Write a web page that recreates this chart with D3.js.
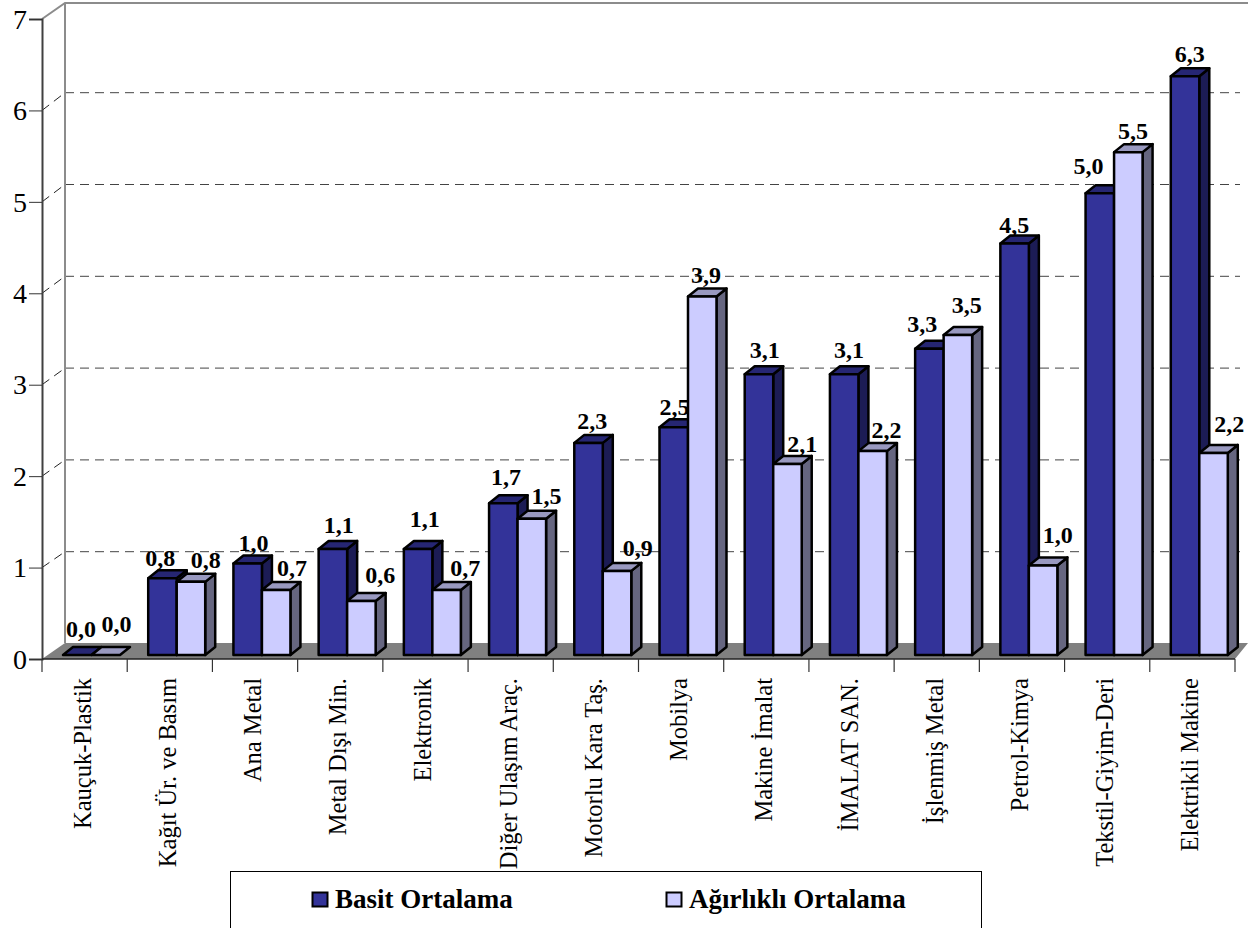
<!DOCTYPE html>
<html><head><meta charset="utf-8">
<script src="https://cdn.jsdelivr.net/npm/d3@7"></script>
<style>html,body{margin:0;padding:0;background:#fff}svg{display:block}text{font-family:"Liberation Serif",serif}</style>
</head><body><svg id="c" width="1248" height="928"></svg>
<script>
const categories=["Kauçuk-Plastik","Kağıt Ür. ve Basım","Ana Metal","Metal Dışı Min.","Elektronik","Diğer Ulaşım Araç.","Motorlu Kara Taş.","Mobilya","Makine İmalat","İMALAT SAN.","İşlenmiş Metal","Petrol-Kimya","Tekstil-Giyim-Deri","Elektrikli Makine"];
const basit=[0,0.84,1.0,1.16,1.16,1.66,2.32,2.49,3.07,3.07,3.35,4.5,5.05,6.33];
const agirlikli=[0,0.8,0.71,0.59,0.71,1.49,0.92,3.92,2.09,2.23,3.5,0.98,5.5,2.21];
const basitLabels=["0,0","0,8","1,0","1,1","1,1","1,7","2,3","2,5","3,1","3,1","3,3","4,5","5,0","6,3"];
const agirlikliLabels=["0,0","0,8","0,7","0,6","0,7","1,5","0,9","3,9","2,1","2,2","3,5","1,0","5,5","2,2"];
const yTicks=[0,1,2,3,4,5,6,7];
const seriesNames=["Basit Ortalama","Ağırlıklı Ortalama"];
// label placement nudges (px), separate from data
const nudgeBasit=[[3,-18],[-3,-12],[5,-13],[5,-16],[6,-22],[2,-18],[3,-14],[0,-12],[5,-16],[4,-16],[-8,-17],[-1,-11],[-12,-19],[4,-14]];
const nudgeAgir=[[10,-23],[14,-14],[15,-14],[18,-18],[18,-14],[14,-15],[20,-15],[3,-14],[14,-12],[13,-13],[8,-22],[14,-22],[4,-13],[15,-21]];

const svg=d3.select("#c");
const y=d3.scaleLinear().domain([0,7]).range([659,19]);
const yBack=d3.scaleLinear().domain([1,6]).range([551.7,92.7]);
const x=d3.scaleBand().domain(categories).range([42,1235]).paddingInner(0).paddingOuter(0);
const wallDx=23,wallDy=16,barW=28.5,dX=10,dY=8,barLift=4,groupOff=21;
const axisX=x.range()[0];
const pts=a=>a.map(p=>p.join(",")).join(" ");

// floor
svg.append("polygon").attr("points",pts([[axisX,y(0)],[axisX+wallDx,y(0)-wallDy],[1248,y(0)-wallDy],[1235,y(0)]])).attr("fill","#808080");
// gridlines
yTicks.slice(1,7).forEach(t=>{
  svg.append("line").attr("x1",axisX+wallDx).attr("x2",1240).attr("y1",yBack(t)).attr("y2",yBack(t))
    .attr("stroke","#444").attr("stroke-width",1).attr("stroke-dasharray","9,6");
  svg.append("line").attr("x1",axisX).attr("x2",axisX+wallDx).attr("y1",y(t)).attr("y2",yBack(t))
    .attr("stroke","#222").attr("stroke-width",1).attr("stroke-dasharray","9,6");
});
// walls
svg.append("path").attr("d",`M${axisX},${y(7)}L${axisX+wallDx},${y(7)-wallDy}L1248,${y(7)-wallDy}`).attr("fill","none").attr("stroke","#8c8c8c").attr("stroke-width",2);
svg.append("line").attr("x1",axisX+wallDx).attr("x2",axisX+wallDx).attr("y1",y(7)-wallDy).attr("y2",y(0)-wallDy).attr("stroke","#8c8c8c").attr("stroke-width",2);

// axes
const ya=d3.axisLeft(y).tickValues(yTicks).tickSize(13).tickPadding(2).tickFormat(d3.format("d"));
const yg=svg.append("g").attr("transform",`translate(${axisX},0)`).call(ya);
yg.select(".domain").attr("stroke","#404040").attr("stroke-width",2);
yg.selectAll("line").attr("stroke","#333");
yg.selectAll("text").attr("font-size",28).attr("fill","#000").attr("dy","0.33em");

svg.append("line").attr("x1",axisX).attr("x2",1235).attr("y1",y(0)).attr("y2",y(0)).attr("stroke","#222").attr("stroke-width",1.5);
d3.range(categories.length+1).forEach(i=>{
  const tx=axisX+i*x.step();
  svg.append("line").attr("x1",tx).attr("x2",tx).attr("y1",y(0)).attr("y2",y(0)+13).attr("stroke","#333").attr("stroke-width",1.2);
});
svg.append("g").selectAll("text").data(categories).join("text")
  .attr("text-anchor","end").attr("font-size",24.5).attr("fill","#000")
  .attr("transform",d=>`translate(${x(d)+x.bandwidth()/2+6},678) rotate(-90)`).text(d=>d);

// bars
function bar(g,bx,v,c){
  const top=y(v)-barLift, bot=y(0)-barLift;
  const st={stroke:"#000","stroke-width":2.5,"stroke-linejoin":"round"};
  const add=(p,f)=>{const e=g.append("polygon").attr("points",pts(p)).attr("fill",f);Object.entries(st).forEach(([k,val])=>e.attr(k,val));};
  if(v>0) add([[bx+barW,top],[bx+barW+dX,top-dY],[bx+barW+dX,bot-dY],[bx+barW,bot]],c.side);
  add([[bx,top],[bx+dX,top-dY],[bx+barW+dX,top-dY],[bx+barW,top]],c.top);
  if(v>0) add([[bx,top],[bx+barW,top],[bx+barW,bot],[bx,bot]],c.front);
}
const dark={front:"#333399",top:"#262673",side:"#1c1c55"};
const light={front:"#ccccff",top:"#9999c0",side:"#666680"};
const bg=svg.append("g");
categories.forEach((c,i)=>{
  const gx=x(c)+groupOff;
  const g=bg.append("g");
  bar(g,gx,basit[i],dark);
  bar(g,gx+barW,agirlikli[i],light);
});
// labels
const lab=svg.append("g").attr("font-size",24).attr("font-weight","bold").attr("text-anchor","middle").attr("fill","#000");
categories.forEach((c,i)=>{
  const gx=x(c)+groupOff+1;
  lab.append("text").attr("x",gx+14+nudgeBasit[i][0]).attr("y",y(basit[i])-barLift+nudgeBasit[i][1]).text(basitLabels[i]);
  lab.append("text").attr("x",gx+42.5+nudgeAgir[i][0]).attr("y",y(agirlikli[i])-barLift+nudgeAgir[i][1]).text(agirlikliLabels[i]);
});
// legend
svg.append("rect").attr("x",230.5).attr("y",871.5).attr("width",751).attr("height",70).attr("fill","#fff").attr("stroke","#000").attr("stroke-width",1);
const legX=[312,666],legC=[dark.front,light.front];
seriesNames.forEach((n,i)=>{
  svg.append("rect").attr("x",legX[i]+.5).attr("y",892.5).attr("width",15).attr("height",14).attr("fill",legC[i]).attr("stroke","#000").attr("stroke-width",2);
  svg.append("text").attr("x",legX[i]+23).attr("y",908).attr("font-size",27).attr("font-weight","bold").attr("fill","#000").text(n);
});
</script></body></html>
